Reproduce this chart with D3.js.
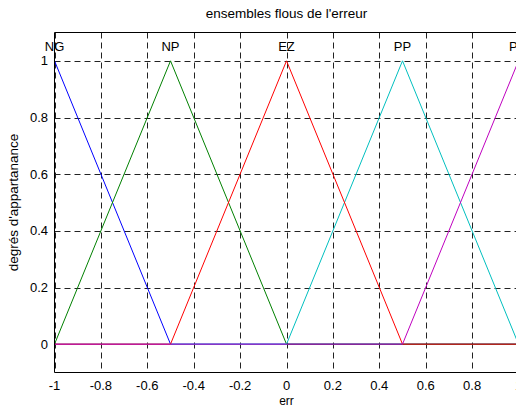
<!DOCTYPE html>
<html>
<head>
<meta charset="utf-8">
<script src="https://cdn.jsdelivr.net/npm/d3@7"></script>
<style>
  body { margin: 0; background: #fff; }
  text { font-family: "Liberation Sans", Arial, sans-serif; fill: #000; }
</style>
</head>
<body>
<svg id="chart"></svg>
<script>
// breakpoints of the universe of discourse
const xPoints = [-1, -0.5, 0, 0.5, 1];
// membership degrees at each breakpoint
const setNames = ["NG", "NP", "EZ", "PP", "PG"];
const NG = [1, 0, 0, 0, 0];
const NP = [0, 1, 0, 0, 0];
const EZ = [0, 0, 1, 0, 0];
const PP = [0, 0, 0, 1, 0];
const PG = [0, 0, 0, 0, 1];
const peaks = [-1, -0.5, 0, 0.5, 1];
const colors = ["#0000ff", "#008000", "#ff0000", "#00bfbf", "#bf00bf"];
const xTicks = [-1, -0.8, -0.6, -0.4, -0.2, 0, 0.2, 0.4, 0.6, 0.8, 1];
const yTicks = [0, 0.2, 0.4, 0.6, 0.8, 1];

const width = 516, height = 407;
const svg = d3.select("#chart").attr("width", width).attr("height", height);

const x = d3.scaleLinear().domain([-1, 1]).range([54.5, 518.5]);
const y = d3.scaleLinear().domain([-0.1, 1.1]).range([372.5, 32.5]);

const fmt = d => (d === 0 ? "0" : String(d));

// dashed grid (no line at 0, the curves lie on it)
svg.append("g").selectAll("line")
  .data(xTicks)
  .enter().append("line")
  .attr("x1", d => Math.round(x(d)) + 0.5).attr("x2", d => Math.round(x(d)) + 0.5)
  .attr("y1", y(1.1)).attr("y2", y(-0.1))
  .attr("stroke", "#222").attr("stroke-dasharray", "6,4");

svg.append("g").selectAll("line")
  .data(yTicks.filter(d => d > 0))
  .enter().append("line")
  .attr("x1", x(-1)).attr("x2", x(1))
  .attr("y1", d => Math.round(y(d)) + 0.5).attr("y2", d => Math.round(y(d)) + 0.5)
  .attr("stroke", "#222").attr("stroke-dasharray", "6,4");

// membership functions (drawn so the zero line looks like the original)
const series = [NG, NP, PP, EZ, PG];
const seriesIdx = [0, 1, 3, 2, 4];
const line = d3.line().x((d, i) => x(xPoints[i])).y(d => y(d));
series.forEach((s, k) => {
  svg.append("path")
    .datum(s)
    .attr("d", line)
    .attr("fill", "none")
    .attr("stroke", colors[seriesIdx[k]])
    .attr("stroke-width", 1);
});

// set labels
svg.append("g").selectAll("text")
  .data(setNames)
  .enter().append("text")
  .attr("x", (d, i) => x(peaks[i]))
  .attr("y", y(1.05))
  .attr("dy", "0.35em")
  .attr("text-anchor", "middle")
  .style("font-size", "13px")
  .text(d => d);

// box
svg.append("line").attr("x1", x(-1)).attr("x2", x(-1)).attr("y1", y(1.1)).attr("y2", y(-0.1)).attr("stroke", "#000");
svg.append("line").attr("x1", x(-1)).attr("x2", x(1)).attr("y1", y(-0.1)).attr("y2", y(-0.1)).attr("stroke", "#000");
svg.append("line").attr("x1", x(-1)).attr("x2", x(1)).attr("y1", y(1.1)).attr("y2", y(1.1)).attr("stroke", "#000");

// tick labels
svg.append("g").selectAll("text")
  .data(xTicks)
  .enter().append("text")
  .attr("x", d => x(d))
  .attr("y", 390)
  .attr("text-anchor", "middle")
  .style("font-size", "13px")
  .text(fmt);

svg.append("g").selectAll("text")
  .data(yTicks)
  .enter().append("text")
  .attr("x", 48)
  .attr("y", d => y(d))
  .attr("dy", "0.35em")
  .attr("text-anchor", "end")
  .style("font-size", "13px")
  .text(fmt);

// title and axis labels
svg.append("text")
  .attr("x", x(0)).attr("y", 18)
  .attr("text-anchor", "middle")
  .style("font-size", "13.5px")
  .text("ensembles flous de l'erreur");

svg.append("text")
  .attr("x", x(0)).attr("y", 405)
  .attr("text-anchor", "middle")
  .style("font-size", "12px")
  .text("err");

svg.append("text")
  .attr("transform", `translate(18, ${y(0.5)}) rotate(-90)`)
  .attr("text-anchor", "middle")
  .style("font-size", "13.5px")
  .text("degrés d'appartanance");
</script>
</body>
</html>
